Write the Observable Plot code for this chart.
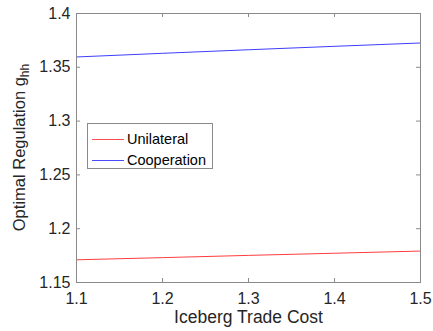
<!DOCTYPE html>
<html><head><meta charset="utf-8">
<script src="https://cdn.jsdelivr.net/npm/d3@7"></script>
<script src="https://cdn.jsdelivr.net/npm/@observablehq/plot@0.6"></script>
<style>
body{margin:0;background:#fff;font-family:"Liberation Sans",Arial,sans-serif;}
#wrap{position:relative;width:433px;height:331px;}
#legend{position:absolute;left:87px;top:123px;width:124px;height:44px;border:1px solid #8a8a8a;background:#fff;font-size:14.5px;color:#000;}
.row{position:absolute;left:4px;height:20px;display:flex;align-items:center;}
.row span.l{display:inline-block;width:32px;height:0;border-top:1px solid;margin-right:3px;}
</style>
</head><body>
<div id="wrap"></div>
<script>
const costs = [1.1, 1.2, 1.3, 1.4, 1.5];
const unilateral = [1.1711, 1.1731, 1.1752, 1.1772, 1.1792];
const cooperation = [1.3596, 1.3630, 1.3663, 1.3695, 1.3726];
const seriesNames = ["Unilateral", "Cooperation"];
const seriesColors = ["#ff0000", "#0000ff"];
const xTicks = [1.1, 1.2, 1.3, 1.4, 1.5];
const yTicks = [1.15, 1.2, 1.25, 1.3, 1.35, 1.4];

const rows = [];
costs.forEach((c, i) => {
  rows.push({x: c, y: unilateral[i], s: seriesNames[0]});
  rows.push({x: c, y: cooperation[i], s: seriesNames[1]});
});

const W = 433, H = 331, mL = 76, mR = 13, mT = 13, mB = 49;
const pw = W - mL - mR, ph = H - mT - mB;
const tk = 4;
const axisColor = "#8a8a8a";

const chart = Plot.plot({
  width: W, height: H,
  marginLeft: mL, marginRight: mR, marginTop: mT, marginBottom: mB,
  style: {fontFamily: "'Liberation Sans', Arial, sans-serif", fontSize: "16px", color: "#262626", background: "#fff"},
  x: {domain: [1.1, 1.5]},
  y: {domain: [1.15, 1.4]},
  color: {domain: seriesNames, range: seriesColors},
  marks: [
    Plot.axisX(xTicks, {tickSize: 0, tickPadding: 10, tickFormat: d => d3.format(".1f")(d), label: null, fontSize: 16, fill: "#262626"}),
    Plot.axisY(yTicks, {tickSize: 0, tickPadding: 6, tickFormat: d => String(+d.toFixed(2)), label: null, fontSize: 16, fill: "#262626"}),
    Plot.tickX(xTicks, {x: d => d, stroke: axisColor, insetTop: ph - tk}),
    Plot.tickX(xTicks, {x: d => d, stroke: axisColor, insetBottom: ph - tk}),
    Plot.tickY(yTicks, {y: d => d, stroke: axisColor, insetRight: pw - tk}),
    Plot.tickY(yTicks, {y: d => d, stroke: axisColor, insetLeft: pw - tk}),
    Plot.line(rows, {x: "x", y: "y", z: "s", stroke: "s", strokeWidth: 0.9, strokeOpacity: 0.85}),
    Plot.frame({stroke: axisColor}),
    Plot.text(["Iceberg Trade Cost"], {frameAnchor: "bottom", dy: 40, fontSize: 17.5, fill: "#262626", text: d => d})
  ]
});

const wrap = document.getElementById("wrap");
wrap.appendChild(chart);

// y-axis label with subscript
const svg = d3.select(chart);
const yl = svg.append("text")
  .attr("transform", `translate(${25},${mT + ph / 2}) rotate(-90)`)
  .attr("text-anchor", "middle")
  .attr("fill", "#262626")
  .attr("font-size", 16.5)
  .attr("font-family", "'Liberation Sans', Arial, sans-serif");
yl.append("tspan").text("Optimal Regulation g");
yl.append("tspan").attr("font-size", 12).attr("dy", 4).text("hh");

// legend
const lg = document.createElement("div");
lg.id = "legend";
seriesNames.forEach((n, i) => {
  const r = document.createElement("div");
  r.className = "row";
  r.style.top = (5 + i * 21) + "px";
  const l = document.createElement("span");
  l.className = "l";
  l.style.borderTopColor = seriesColors[i];
  l.style.opacity = 0.7;
  r.appendChild(l);
  const t = document.createElement("span");
  t.textContent = n;
  r.appendChild(t);
  lg.appendChild(r);
});
wrap.appendChild(lg);
</script>
</body></html>
